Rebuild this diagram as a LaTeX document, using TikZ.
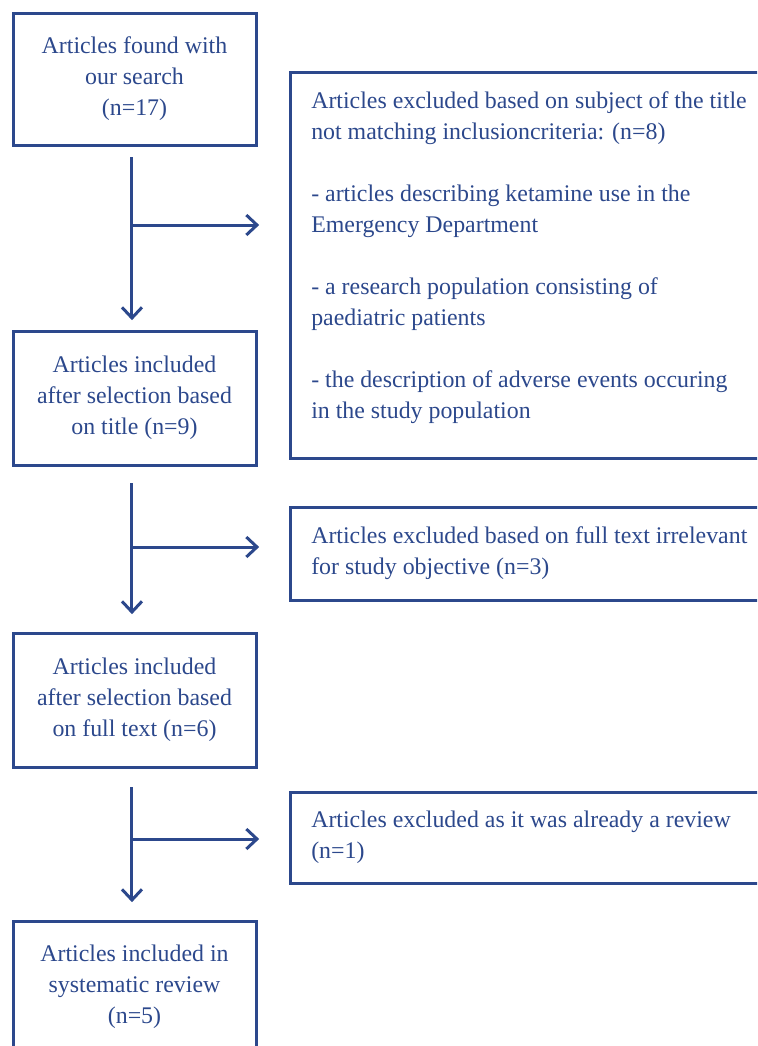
\documentclass[tikz,border=0pt]{standalone}
\usepackage{fontspec}
\setmainfont{Liberation Serif}
\usetikzlibrary{arrows.meta}
\definecolor{flowblue}{RGB}{44,72,140}
\begin{document}
\begin{tikzpicture}[x=0.75pt,y=-0.75pt,
  every node/.style={text=flowblue},
  lbox/.style={draw=flowblue, line width=2.25pt, minimum width=182.25pt, align=center,
    font=\fontsize{17.9}{23.25}\selectfont, inner sep=0pt},
  rbox/.style={draw=flowblue, line width=2.25pt, minimum width=382.5pt, inner sep=0pt},
  rtext/.style={anchor=west, align=left, inner sep=0pt, font=\fontsize{17.9}{23.25}\selectfont},
  arr/.style={draw=flowblue, line width=2.25pt, -{Straight Barb[length=8pt,width=15pt,line width=2.25pt]}}
]
\useasboundingbox (0,0) rectangle (757,1046);
\clip (0,0) rectangle (757,1046);

% left boxes
\node[lbox, minimum height=99pt] (b1) at (134.5,79) {Articles found with\\our search\\(n=17)};
\node[lbox, minimum height=100.5pt] (b2) at (134.5,398) {Articles included\\after selection based\\on title (n=9)};
\node[lbox, minimum height=100.5pt] (b3) at (134.5,700) {Articles included\\after selection based\\on full text (n=6)};
\node[lbox, minimum height=99pt] (b4) at (134.5,987) {Articles included in\\systematic review\\(n=5)};

% right boxes
\node[rbox, minimum height=289.5pt] (r1) at (545,265) {};
\node[rbox, minimum height=69.75pt] (r2) at (545,553.5) {};
\node[rbox, minimum height=68.25pt] (r3) at (545,837.5) {};

\node[rtext] (r1t) at (311,257.5) {Articles excluded based on subject of the title\\not matching inclusioncriteria: (n=8)\\[23.25pt]- articles describing ketamine use in the\\Emergency Department\\[23.25pt]- a research population consisting of\\paediatric patients\\[23.25pt]- the description of adverse events occuring\\in the study population};
\node[rtext] (r2t) at (311,553.5) {Articles excluded based on full text irrelevant\\for study objective (n=3)};
\node[rtext] (r3t) at (311,837.5) {Articles excluded as it was already a review\\(n=1)};

% arrows
\draw[arr, shorten <=8pt, shorten >=7pt] ([xshift=-1.9pt]b1.south) -- ([xshift=-1.9pt]b2.north);
\draw[arr, shorten <=12.4pt, shorten >=13pt] ([xshift=-1.9pt]b2.south) -- ([xshift=-1.9pt]b3.north);
\draw[arr, shorten <=14pt, shorten >=13pt] ([xshift=-1.9pt]b3.south) -- ([xshift=-1.9pt]b4.north);

\coordinate (j1) at (132,225);
\coordinate (j2) at (132,547);
\coordinate (j3) at (132,839);
\draw[arr, shorten >=22pt] (j1) -- (j1 -| r1.west);
\draw[arr, shorten >=22pt] (j2) -- (j2 -| r2.west);
\draw[arr, shorten >=22pt] (j3) -- (j3 -| r3.west);
\end{tikzpicture}
\end{document}
